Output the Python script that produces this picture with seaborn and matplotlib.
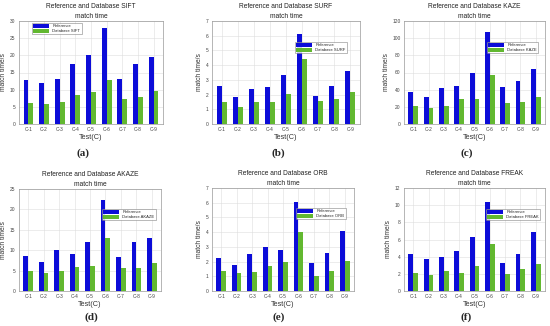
import pandas as pd
import seaborn as sns
import matplotlib.pyplot as plt

tests = ['C-1', 'C-2', 'C-3', 'C-4', 'C-5', 'C-6', 'C-7', 'C-8', 'C-9']

sift_ref = [12.8, 11.8, 13.1, 17.4, 20.0, 28.0, 13.2, 17.5, 19.4]
sift_db = [6.1, 5.8, 6.3, 8.5, 9.4, 12.8, 7.4, 8.0, 9.6]
surf_ref = [2.55, 1.85, 2.38, 2.5, 3.3, 6.1, 1.88, 2.55, 3.58]
surf_db = [1.5, 1.15, 1.52, 1.48, 2.02, 4.4, 1.55, 1.72, 2.18]
kaze_ref = [37.5, 32, 42, 44.5, 60, 107, 43.5, 50, 64]
kaze_db = [21.5, 18.5, 21, 29, 29, 57.5, 25, 25.5, 31.5]
akaze_ref = [8.6, 7.0, 10.0, 9.0, 12.0, 22.3, 8.3, 12.0, 13.0]
akaze_db = [5.0, 4.5, 5.0, 5.8, 6.2, 13.1, 5.6, 5.6, 6.9]
orb_ref = [2.25, 1.75, 2.52, 3.0, 2.78, 6.08, 1.93, 2.58, 4.05]
orb_db = [1.38, 1.2, 1.3, 1.7, 1.95, 4.02, 1.03, 1.35, 2.05]
freak_ref = [4.35, 3.75, 3.95, 4.7, 6.3, 10.4, 3.3, 4.35, 6.85]
freak_db = [2.1, 1.85, 2.35, 2.1, 2.9, 5.5, 2.0, 2.55, 3.2]

methods = ['SIFT', 'SURF', 'KAZE', 'AKAZE', 'ORB', 'FREAK']
refs = [sift_ref, surf_ref, kaze_ref, akaze_ref, orb_ref, freak_ref]
dbs = [sift_db, surf_db, kaze_db, akaze_db, orb_db, freak_db]
ymax = [30, 7, 120, 25, 7, 12]
ystep = [5, 1, 20, 5, 1, 2]
letters = ['(a)', '(b)', '(c)', '(d)', '(e)', '(f)']

W, H = 550, 326
# axes boxes in pixels: left, right, top, bottom
boxes = [(19, 163, 21, 124), (212, 360, 21, 124), (404, 545, 21, 124),
         (19, 161, 189, 291), (212, 354, 188, 291), (404, 545, 188, 291)]
# legend upper-left corner in pixels
legpos = [(32, 23), (295, 42), (487, 42), (102, 209), (296, 208), (486, 209)]
letter_x = [83, 278, 467, 91, 279, 466]

sns.set_style('white')
plt.rcParams['font.family'] = ['Liberation Sans', 'DejaVu Sans']

fig = plt.figure(figsize=(W / 100, H / 100), dpi=100)
palette = ['#0c0cd8', '#62b830']

for i, m in enumerate(methods):
    l, r, t, b = boxes[i]
    ax = fig.add_axes([l / W, 1 - b / H, (r - l) / W, (b - t) / H])
    df = pd.DataFrame({
        'test': tests * 2,
        'time': refs[i] + dbs[i],
        'series': ['Reference'] * 9 + ['Database ' + m] * 9,
    })
    sns.barplot(data=df, x='test', y='time', hue='series', palette=palette,
                width=0.62, gap=0, saturation=1, linewidth=0, edgecolor='none',
                ax=ax, zorder=3)
    ax.set_ylim(0, ymax[i])
    ax.set_xlim(-0.6, 8.6)
    ax.set_yticks(range(0, ymax[i] + 1, ystep[i]))
    ax.tick_params(labelsize=3.5, length=1.5, width=0.4, pad=1, colors='#444444')
    ax.grid(True, color='#dddddd', linewidth=0.4, zorder=0)
    ax.set_axisbelow(True)
    for s in ax.spines.values():
        s.set_color('#999999')
        s.set_linewidth(0.5)
    ax.set_title('Reference and Database ' + m + '\nmatch time', fontsize=4.8,
                 linespacing=1.45, pad=2.5, color='#222222')
    ax.set_xlabel('Test(C)', fontsize=5.2, labelpad=1, color='#333333')
    ax.set_ylabel('match time/s', fontsize=4.8, labelpad=2, color='#333333')
    lx, ly = legpos[i]
    leg = ax.legend(loc='upper left', bbox_to_anchor=(lx / W, 1 - ly / H),
                    bbox_transform=fig.transFigure, fontsize=3.0, frameon=True,
                    fancybox=False, borderpad=0.3, handlelength=3.8,
                    handleheight=0.9, labelspacing=0.15, borderaxespad=0)
    leg.get_frame().set_linewidth(0.4)
    leg.get_frame().set_edgecolor('#666666')
    ly2 = 153 if i < 3 else 317
    fig.text(letter_x[i] / W, 1 - ly2 / H, letters[i], ha='center', va='center',
             fontsize=8, family='Liberation Serif', weight='bold')

fig.savefig('out.png', dpi=100)
